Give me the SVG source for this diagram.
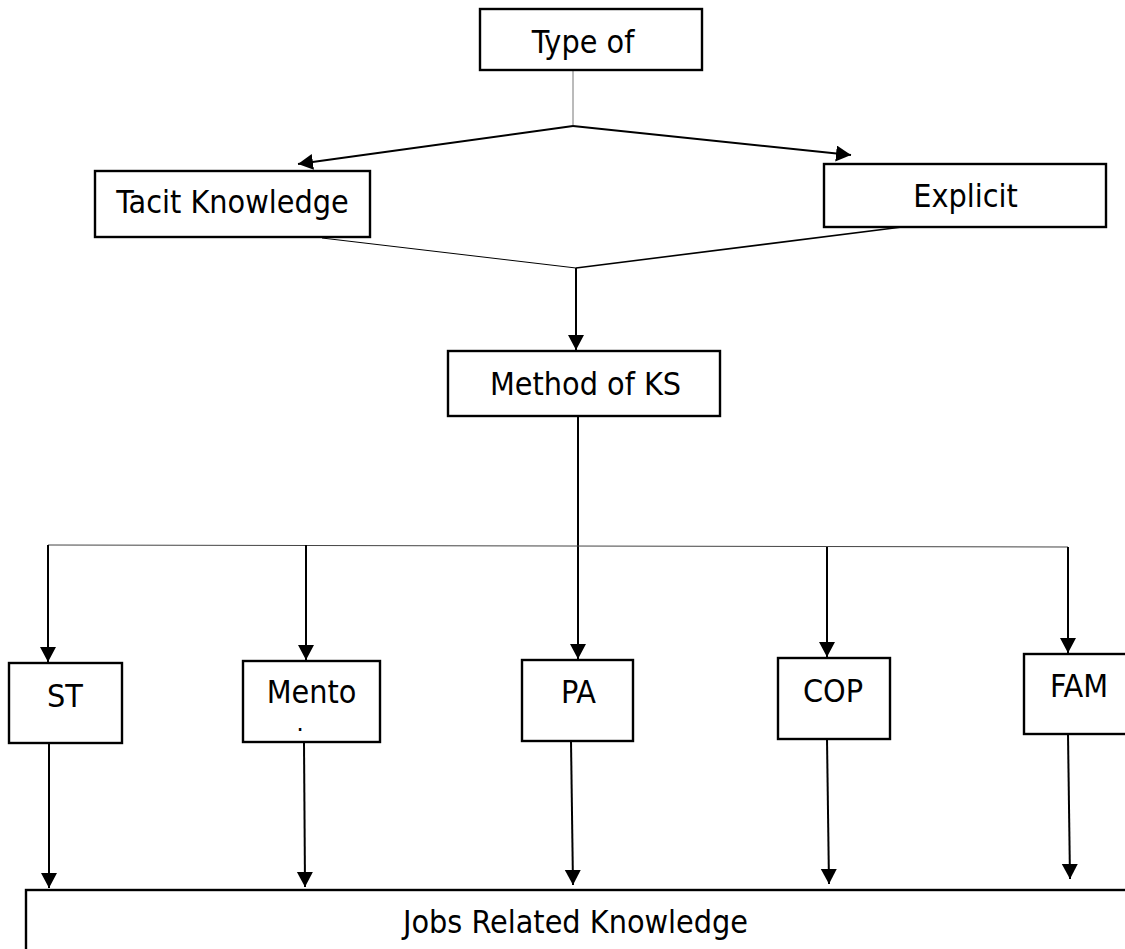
<svg xmlns="http://www.w3.org/2000/svg" width="1125" height="949" viewBox="0 0 1125 949">
<style>
.box{fill:#fff;stroke:#000;stroke-width:2.4}
.lbl{font-family:"DejaVu Sans Condensed","DejaVu Sans",sans-serif;font-stretch:condensed;font-size:32px;fill:#000;text-anchor:middle}
.arr{stroke:#000;stroke-width:2;fill:none;marker-end:url(#ah)}
.thin{stroke:#000;stroke-width:1;fill:none}
.gray{stroke:#777;stroke-width:1;fill:none}
</style>
<defs>
<marker id="ah" markerUnits="userSpaceOnUse" markerWidth="18" markerHeight="18" refX="15" refY="8" orient="auto">
<path d="M0,0 L15,8 L0,16 z" fill="#000"/>
</marker>
</defs>
<rect width="1125" height="949" fill="#fff"/>
<g id="connectors">
<line class="gray" x1="573" y1="70" x2="573" y2="126"/>
<line class="arr" x1="573" y1="126" x2="298" y2="164"/>
<line class="arr" x1="573" y1="126" x2="851" y2="155"/>
<line class="thin" x1="322" y1="238" x2="576" y2="268"/>
<line class="thin" style="stroke-width:1.6" x1="902" y1="227" x2="576" y2="268"/>
<line class="arr" x1="576" y1="268" x2="576" y2="350"/>
<line class="arr" x1="578" y1="416" x2="578" y2="659"/>
<line class="gray" style="stroke:#444" x1="48" y1="545" x2="1068" y2="547"/>
<line class="arr" x1="48" y1="545" x2="48" y2="662"/>
<line class="arr" x1="306" y1="545" x2="306" y2="660"/>
<line class="arr" x1="827" y1="547" x2="827" y2="657"/>
<line class="arr" x1="1068" y1="547" x2="1068" y2="653"/>
<line class="arr" x1="49" y1="743" x2="49" y2="888"/>
<line class="arr" x1="304" y1="742" x2="305" y2="887"/>
<line class="arr" x1="571" y1="741" x2="573" y2="885"/>
<line class="arr" x1="827" y1="739" x2="829" y2="884"/>
<line class="arr" x1="1068" y1="734" x2="1070" y2="879"/>
</g>
<g id="type-of">
<rect class="box" x="480" y="9" width="222" height="61"/>
<text class="lbl" x="583" y="53">Type of</text>
</g>
<g id="tacit">
<rect class="box" x="95" y="171" width="275" height="66"/>
<text class="lbl" x="232.5" y="213">Tacit Knowledge</text>
</g>
<g id="explicit">
<rect class="box" x="824" y="164" width="282" height="63"/>
<text class="lbl" x="965.5" y="207">Explicit</text>
</g>
<g id="method">
<rect class="box" x="448" y="351" width="272" height="65"/>
<text class="lbl" x="585.5" y="395">Method of KS</text>
</g>
<g id="st">
<rect class="box" x="9" y="663" width="113" height="80"/>
<text class="lbl" x="65" y="707">ST</text>
</g>
<g id="mento">
<rect class="box" x="243" y="661" width="137" height="81"/>
<text class="lbl" x="311.5" y="703">Mento</text>
<text class="lbl" style="font-size:15px;font-weight:bold" x="300" y="731">.</text>
</g>
<g id="pa">
<rect class="box" x="522" y="660" width="111" height="81"/>
<text class="lbl" x="578.5" y="703">PA</text>
</g>
<g id="cop">
<rect class="box" x="778" y="658" width="112" height="81"/>
<text class="lbl" x="833" y="702">COP</text>
</g>
<g id="fam">
<rect class="box" x="1024" y="654" width="110" height="80"/>
<text class="lbl" x="1079" y="697">FAM</text>
</g>
<g id="jobs">
<rect class="box" x="26" y="890" width="1120" height="90"/>
<text class="lbl" x="575.5" y="933">Jobs Related Knowledge</text>
</g>
</svg>
